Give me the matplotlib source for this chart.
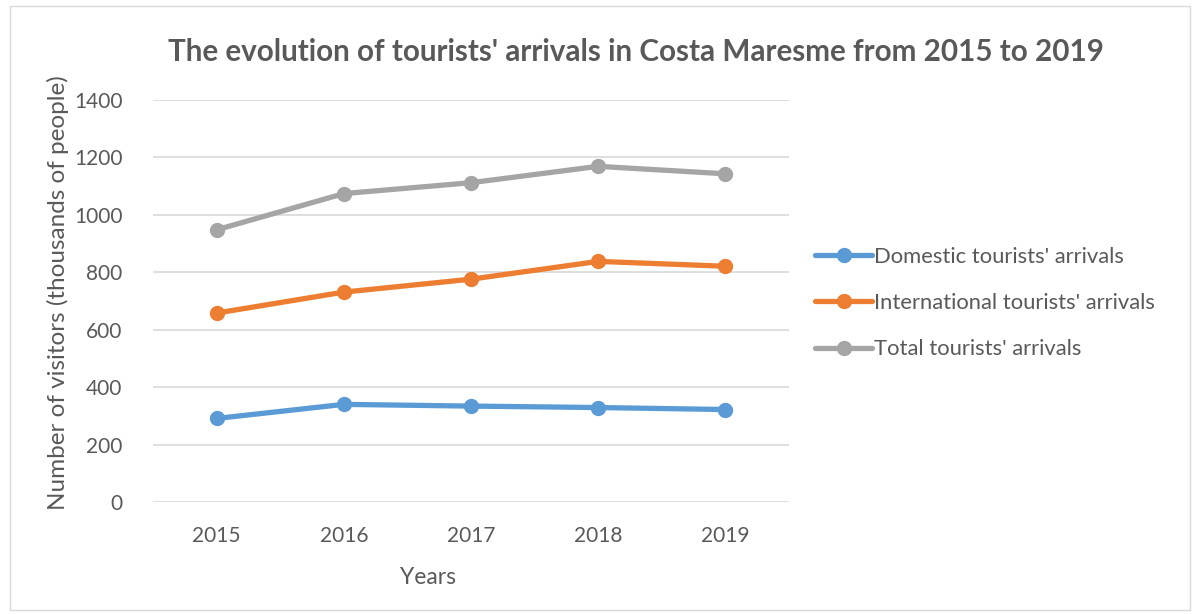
import matplotlib.pyplot as plt
import numpy as np

years = ['2015', '2016', '2017', '2018', '2019']
domestic = [291, 340, 334, 329, 322]
international = [658, 731, 776, 838, 821]
total = [948, 1074, 1112, 1169, 1143]

series = [
    ("Domestic tourists' arrivals", domestic, '#5B9BD5'),
    ("International tourists' arrivals", international, '#ED7D31'),
    ("Total tourists' arrivals", total, '#A5A5A5'),
]

text_color = '#595959'
plt.rcParams['font.family'] = ['Lato', 'DejaVu Sans']

W, H = 1198, 614
fig = plt.figure(figsize=(W / 100, H / 100), dpi=100)

# chart frame
fig.patches.append(plt.Rectangle((10 / W, 4 / H), 1180 / W, 604 / H,
                                 transform=fig.transFigure, fill=False,
                                 edgecolor='#D9D9D9', linewidth=1))

ax = fig.add_axes([153 / W, 1 - 502 / H, (789 - 153) / W, (502 - 100) / H])
x = np.arange(len(years))
for label, values, color in series:
    ax.plot(x, values, color=color, linewidth=3.8, marker='o',
            markersize=10, label=label, solid_capstyle='round')

ax.set_xlim(-0.5, len(years) - 0.5)
ax.set_ylim(0, 1400)
ax.set_yticks(range(0, 1401, 200))
ax.set_xticks(x)
ax.set_xticklabels(years)
ax.grid(axis='y', color='#D9D9D9', linewidth=1.2)
ax.set_axisbelow(True)
for s in ax.spines.values():
    s.set_visible(False)
ax.tick_params(length=0, labelsize=15, colors=text_color)
ax.tick_params(axis='y', pad=22)
ax.tick_params(axis='x', pad=17)

fig.text(636 / W, 1 - 52 / H,
         "The evolution of tourists' arrivals in Costa Maresme from 2015 to 2019",
         ha='center', va='center', fontsize=21.3, fontweight='bold', color=text_color)
fig.text(58 / W, 1 - 293 / H, 'Number of visitors (thousands of people)',
         rotation=90, ha='center', va='center', fontsize=17.5, color=text_color)
fig.text(428 / W, 1 - 577 / H, 'Years', ha='center', va='center',
         fontsize=16.5, color=text_color)

ax.legend(loc='center left', bbox_to_anchor=(815 / W, 1 - 303 / H),
          bbox_transform=fig.transFigure, frameon=False, fontsize=15.8,
          labelcolor=text_color, handlelength=2.6, handletextpad=0.1,
          borderaxespad=0, borderpad=0, labelspacing=1.2)

fig.savefig('out.png', dpi=100)
